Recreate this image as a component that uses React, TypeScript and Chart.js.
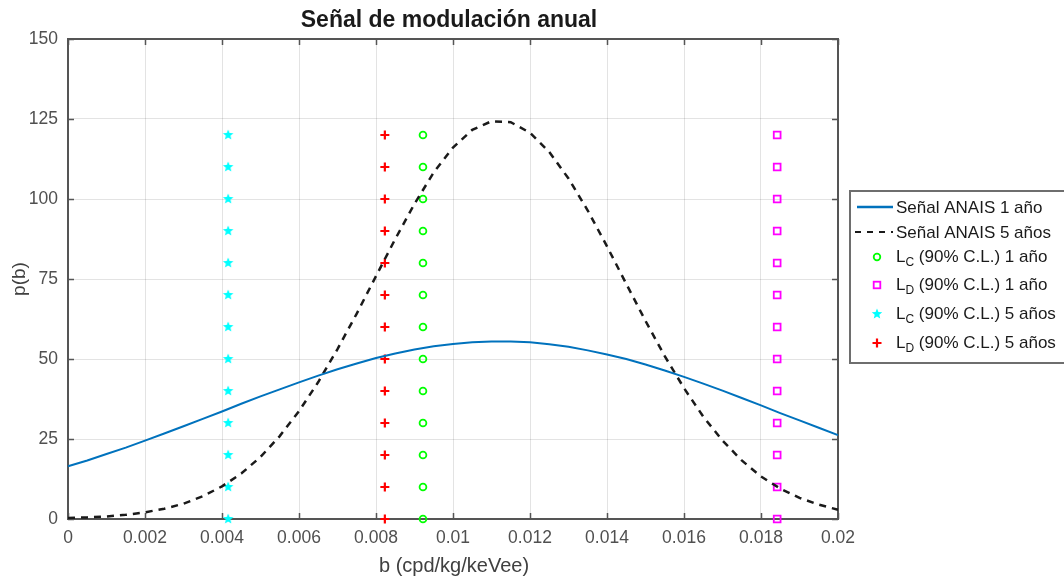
import React, { useEffect, useRef } from "react";
import { Chart, registerables } from "chart.js";

Chart.register(...registerables);

// ---- data ----
const xTicks = [0, 0.002, 0.004, 0.006, 0.008, 0.01, 0.012, 0.014, 0.016, 0.018, 0.02];
const yTicks = [0, 25, 50, 75, 100, 125, 150];

const bValues = [
  0, 0.0005, 0.001, 0.0015, 0.002, 0.0025, 0.003, 0.0035, 0.004, 0.0045,
  0.005, 0.0055, 0.006, 0.0065, 0.007, 0.0075, 0.008, 0.0085, 0.009, 0.0095,
  0.01, 0.0105, 0.011, 0.0115, 0.012, 0.0125, 0.013, 0.0135, 0.014, 0.0145,
  0.015, 0.0155, 0.016, 0.0165, 0.017, 0.0175, 0.018, 0.0185, 0.019, 0.0195, 0.02,
];

const signal1Year = [
  16.5, 18.3, 20.3, 22.3, 24.5, 26.7, 29.0, 31.3, 33.6, 36.0,
  38.3, 40.5, 42.7, 44.8, 46.8, 48.6, 50.3, 51.7, 53.0, 54.0,
  54.7, 55.2, 55.5, 55.5, 55.2, 54.6, 53.8, 52.7, 51.4, 50.0,
  48.3, 46.4, 44.4, 42.3, 40.1, 37.8, 35.5, 33.1, 30.8, 28.5, 26.2,
];

const signal5Years = [
  0.3, 0.5, 0.8, 1.3, 2.1, 3.2, 4.8, 7.1, 10.2, 14.2,
  19.4, 25.9, 33.7, 42.8, 53.1, 64.2, 75.9, 87.5, 98.5, 108.3,
  116.1, 121.6, 124.3, 124.0, 120.7, 114.7, 106.4, 96.4, 85.2, 73.5,
  61.9, 50.9, 40.9, 32.0, 24.5, 18.3, 13.3, 9.5, 6.6, 4.5, 2.9,
];

const markerLevels = [0, 10, 20, 30, 40, 50, 60, 70, 80, 90, 100, 110, 120];
const lc1YearB = 0.00922;
const ld1YearB = 0.01842;
const lc5YearsB = 0.00416;
const ld5YearsB = 0.00823;

const titleText = "Señal de modulación anual";
const xLabel = "b (cpd/kg/keVee)";
const yLabel = "p(b)";
const legendLines = ["Señal ANAIS 1 año", "Señal ANAIS 5 años"];
const legendMarkers = [
  { sub: "C", rest: " (90% C.L.) 1 año" },
  { sub: "D", rest: " (90% C.L.) 1 año" },
  { sub: "C", rest: " (90% C.L.) 5 años" },
  { sub: "D", rest: " (90% C.L.) 5 años" },
];

const FONT = "'Liberation Sans', Arial, sans-serif";
const BLUE = "#0072BD";
const GREEN = "#00ff00";
const MAGENTA = "#ff00ff";
const CYAN = "#00ffff";
const RED = "#ff0000";

function makeStar(): HTMLCanvasElement {
  const c = document.createElement("canvas");
  c.width = 12;
  c.height = 12;
  const g = c.getContext("2d")!;
  g.fillStyle = CYAN;
  g.beginPath();
  for (let i = 0; i < 10; i++) {
    const r = i % 2 === 0 ? 5.5 : 2.4;
    const a = -Math.PI / 2 + (i * Math.PI) / 5;
    const px = 6 + r * Math.cos(a);
    const py = 6 + r * Math.sin(a);
    if (i === 0) g.moveTo(px, py);
    else g.lineTo(px, py);
  }
  g.closePath();
  g.fill();
  return c;
}

export default function App() {
  const ref = useRef<HTMLCanvasElement | null>(null);

  useEffect(() => {
    if (!ref.current) return;
    const star = makeStar();

    const pts = (bx: number) => markerLevels.map((y) => ({ x: bx, y }));

    const framePlugin = {
      id: "frame",
      beforeDraw(chart: any) {
        const ctx = chart.ctx;
        ctx.save();
        ctx.fillStyle = "#ffffff";
        ctx.fillRect(0, 0, chart.width, chart.height);
        ctx.restore();
      },
      beforeDatasetsDraw(chart: any) {
        const ctx = chart.ctx;
        const a = chart.chartArea;
        const xs = chart.scales.x;
        const ys = chart.scales.y;
        ctx.save();
        ctx.strokeStyle = "#555555";
        ctx.lineWidth = 2;
        ctx.strokeRect(a.left, a.top, a.right - a.left, a.bottom - a.top);
        ctx.lineWidth = 1.5;
        const tl = 6;
        xTicks.forEach((v) => {
          const px = Math.round(xs.getPixelForValue(v)) + 0.5;
          ctx.beginPath();
          ctx.moveTo(px, a.bottom);
          ctx.lineTo(px, a.bottom - tl);
          ctx.moveTo(px, a.top);
          ctx.lineTo(px, a.top + tl);
          ctx.stroke();
        });
        yTicks.forEach((v) => {
          const py = Math.round(ys.getPixelForValue(v)) + 0.5;
          ctx.beginPath();
          ctx.moveTo(a.left, py);
          ctx.lineTo(a.left + tl, py);
          ctx.moveTo(a.right, py);
          ctx.lineTo(a.right - tl, py);
          ctx.stroke();
        });
        ctx.restore();
      },
      afterDraw(chart: any) {
        const ctx = chart.ctx;
        const a = chart.chartArea;
        ctx.save();
        // title
        ctx.fillStyle = "#1a1a1a";
        ctx.font = `bold 23px ${FONT}`;
        ctx.textAlign = "center";
        ctx.textBaseline = "middle";
        ctx.fillText(titleText, (a.left + a.right) / 2 - 4, 21);
        // axis labels
        ctx.fillStyle = "#404040";
        ctx.font = `20px ${FONT}`;
        ctx.fillText(xLabel, (a.left + a.right) / 2 + 1, 566);
        ctx.save();
        ctx.translate(20, 279);
        ctx.rotate(-Math.PI / 2);
        ctx.font = `19px ${FONT}`;
        ctx.fillText(yLabel, 0, 0);
        ctx.restore();

        // legend
        const bx = 850;
        const by = 191;
        ctx.fillStyle = "#ffffff";
        ctx.fillRect(bx, by, 230, 172);
        ctx.strokeStyle = "#6e6e6e";
        ctx.lineWidth = 2;
        ctx.strokeRect(bx, by, 230, 172);
        const rows = [207, 232, 257, 285, 314, 343];
        const textX = 896;
        const mx = 877;
        ctx.textAlign = "left";
        ctx.textBaseline = "middle";
        ctx.font = `17px ${FONT}`;
        ctx.fillStyle = "#1a1a1a";
        // line entries
        ctx.strokeStyle = BLUE;
        ctx.lineWidth = 2.5;
        ctx.beginPath();
        ctx.moveTo(857, rows[0]);
        ctx.lineTo(893, rows[0]);
        ctx.stroke();
        ctx.fillText(legendLines[0], textX, rows[0] + 1);
        ctx.strokeStyle = "#1a1a1a";
        ctx.lineWidth = 2;
        ctx.setLineDash([6, 6]);
        ctx.beginPath();
        ctx.moveTo(855, rows[1]);
        ctx.lineTo(893, rows[1]);
        ctx.stroke();
        ctx.setLineDash([]);
        ctx.fillText(legendLines[1], textX, rows[1] + 1);
        // markers
        ctx.strokeStyle = GREEN;
        ctx.lineWidth = 1.8;
        ctx.beginPath();
        ctx.arc(mx, rows[2], 3.3, 0, Math.PI * 2);
        ctx.stroke();
        ctx.strokeStyle = MAGENTA;
        ctx.strokeRect(mx - 3.3, rows[3] - 3.3, 6.6, 6.6);
        ctx.drawImage(star, mx - 6, rows[4] - 6);
        ctx.strokeStyle = RED;
        ctx.lineWidth = 2.2;
        ctx.beginPath();
        ctx.moveTo(mx - 4.5, rows[5]);
        ctx.lineTo(mx + 4.5, rows[5]);
        ctx.moveTo(mx, rows[5] - 4.5);
        ctx.lineTo(mx, rows[5] + 4.5);
        ctx.stroke();
        legendMarkers.forEach((m, i) => {
          const y = rows[i + 2];
          ctx.fillStyle = "#1a1a1a";
          ctx.font = `17px ${FONT}`;
          ctx.fillText("L", textX, y);
          const wL = ctx.measureText("L").width;
          ctx.font = `12px ${FONT}`;
          ctx.fillText(m.sub, textX + wL, y + 6);
          const wS = ctx.measureText(m.sub).width;
          ctx.font = `17px ${FONT}`;
          ctx.fillText(m.rest, textX + wL + wS, y);
        });
        ctx.restore();
      },
    };

    const chart = new Chart(ref.current, {
      type: "scatter",
      data: {
        datasets: [
          {
            label: legendLines[0],
            data: bValues.map((x, i) => ({ x, y: signal1Year[i] })),
            showLine: true,
            borderColor: BLUE,
            borderWidth: 2,
            pointRadius: 0,
            tension: 0,
            clip: false as any,
          },
          {
            label: legendLines[1],
            data: bValues.map((x, i) => ({ x, y: signal5Years[i] })),
            showLine: true,
            borderColor: "#1a1a1a",
            borderWidth: 2.5,
            borderDash: [7, 6],
            pointRadius: 0,
            tension: 0,
            clip: false as any,
          },
          {
            label: "LC 1",
            data: pts(lc1YearB),
            pointStyle: "circle",
            pointRadius: 3.4,
            borderWidth: 1.8,
            borderColor: GREEN,
            backgroundColor: "rgba(0,0,0,0)",
            clip: false as any,
          },
          {
            label: "LD 1",
            data: pts(ld1YearB),
            pointStyle: "rect",
            pointRadius: 4.8,
            borderWidth: 1.8,
            borderColor: MAGENTA,
            backgroundColor: "rgba(0,0,0,0)",
            clip: false as any,
          },
          {
            label: "LC 5",
            data: pts(lc5YearsB),
            pointStyle: star as any,
            pointRadius: 5,
            clip: false as any,
          },
          {
            label: "LD 5",
            data: pts(ld5YearsB),
            pointStyle: "cross",
            pointRadius: 4.5,
            borderWidth: 2.2,
            borderColor: RED,
            backgroundColor: RED,
            clip: false as any,
          },
        ],
      },
      options: {
        responsive: false,
        animation: false,
        events: [],
        layout: { padding: { top: 39, right: 226, left: 0, bottom: 0 } },
        plugins: {
          legend: { display: false },
          title: { display: false },
          tooltip: { enabled: false },
        },
        scales: {
          x: {
            type: "linear",
            min: 0,
            max: 0.02,
            afterBuildTicks: (s: any) => {
              s.ticks = xTicks.map((v) => ({ value: v }));
            },
            afterFit: (s: any) => {
              s.height = 59;
            },
            grid: { color: "rgba(0,0,0,0.11)", lineWidth: 1, drawTicks: false },
            border: { display: false },
            ticks: {
              padding: 9,
              color: "#505050",
              font: { family: FONT, size: 17.5 },
              maxRotation: 0,
              autoSkip: false,
              callback: (v: any) => String(parseFloat(Number(v).toFixed(4))),
            },
          },
          y: {
            type: "linear",
            min: 0,
            max: 150,
            afterBuildTicks: (s: any) => {
              s.ticks = yTicks.map((v) => ({ value: v }));
            },
            afterFit: (s: any) => {
              s.width = 68;
            },
            grid: { color: "rgba(0,0,0,0.11)", lineWidth: 1, drawTicks: false },
            border: { display: false },
            ticks: {
              padding: 10,
              color: "#505050",
              font: { family: FONT, size: 17.5 },
              autoSkip: false,
              callback: (v: any) => String(v),
            },
          },
        },
      },
      plugins: [framePlugin],
    });
    return () => chart.destroy();
  }, []);

  return (
    <div style={{ position: "absolute", left: 0, top: 0, width: 1064, height: 578, background: "#fff" }}>
      <canvas ref={ref} width={1064} height={578} style={{ display: "block" }} />
    </div>
  );
}
